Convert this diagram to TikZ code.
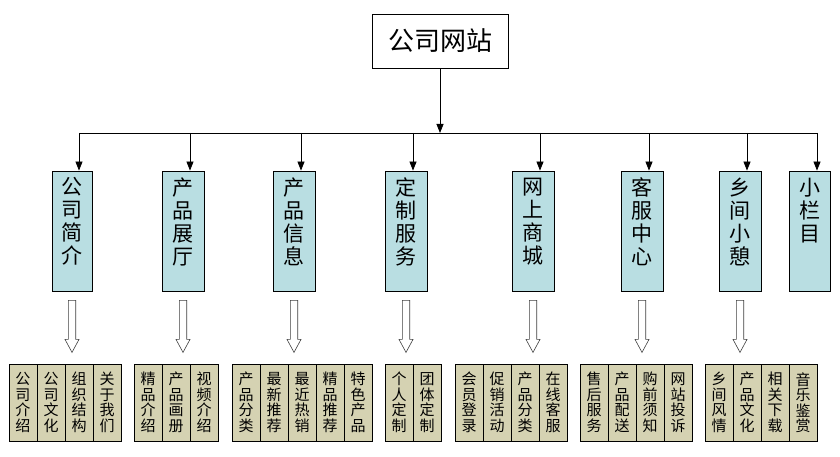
\documentclass[tikz,border=0pt]{standalone}
\usepackage{fontspec}
\setmainfont{Noto Sans CJK SC}
\usetikzlibrary{arrows.meta,calc}
\definecolor{midfill}{RGB}{185,222,226}
\definecolor{leaffill}{RGB}{213,210,178}
\newcommand\hollowarr[1]{\draw[hollow,shift={($(#1.south)+(0,9)$)}] (-3.7,0) -- (3.7,0) -- (3.7,39) -- (7,39) -- (0,52) -- (-7,39) -- (-3.7,39) -- cycle;}
\newcommand\leafgroup[3]{\foreach \t [count=\i] in {#3} {\node[leaf] (#1-\i) at ({#2+28*\i-14},402.5) {\t};}}
\begin{document}
\begin{tikzpicture}[x=1pt,y=-1pt,
  topbox/.style={draw,line width=0.8pt,minimum width=136pt,minimum height=54pt,inner sep=0pt,font=\fontsize{26}{28}\selectfont},
  midbox/.style={draw,line width=0.8pt,fill=midfill,minimum height=120pt,inner sep=0pt},
  midtext/.style={anchor=north,align=center,inner sep=0pt,font=\fontsize{21}{23}\selectfont},
  leaf/.style={draw,line width=0.8pt,fill=leaffill,minimum width=28pt,minimum height=77pt,inner sep=0pt,align=center,font=\fontsize{15}{15.5}\selectfont},
  arr/.style={line width=0.8pt,-{Triangle[width=7pt,length=9pt]}},
  hollow/.style={draw=black!75,line width=0.6pt,fill=white,line join=miter}]
\useasboundingbox (0,0) rectangle (840,457);
\fill[white] (0,0) rectangle (840,457);

\node[topbox] (top) at (440,41) {公司网站};

\node[midbox,minimum width=40pt] (m1) at (72,231) {};
\node[midbox,minimum width=42pt] (m2) at (183,231) {};
\node[midbox,minimum width=42pt] (m3) at (294,231) {};
\node[midbox,minimum width=42pt] (m4) at (406,231) {};
\node[midbox,minimum width=42pt] (m5) at (533,231) {};
\node[midbox,minimum width=42pt] (m6) at (642,231) {};
\node[midbox,minimum width=42pt] (m7) at (740,231) {};
\node[midbox,minimum width=41pt] (m8) at (809.5,231) {};

\node[midtext] (m1t) at ($(m1.north)+(0,7)$) {公\\司\\简\\介};
\node[midtext] (m2t) at ($(m2.north)+(0,7)$) {产\\品\\展\\厅};
\node[midtext] (m3t) at ($(m3.north)+(0,7)$) {产\\品\\信\\息};
\node[midtext] (m4t) at ($(m4.north)+(0,7)$) {定\\制\\服\\务};
\node[midtext] (m5t) at ($(m5.north)+(0,7)$) {网\\上\\商\\城};
\node[midtext] (m6t) at ($(m6.north)+(0,7)$) {客\\服\\中\\心};
\node[midtext] (m7t) at ($(m7.north)+(0,7)$) {乡\\间\\小\\憩};
\node[midtext] (m8t) at ($(m8.north)+(0,7)$) {小\\栏\\目};

\coordinate (barL) at (79,133);
\coordinate (barR) at (817,133);
\draw[arr] (top.south) -- (top.south |- barL);
\draw[line width=0.8pt] (barL) -- (barR);
\foreach \k/\d in {1/7,2/7,3/7,4/7,5/7,6/7,7/7,8/7.5} {
  \coordinate (t\k) at ($(m\k.north)+(\d,0)$);
  \draw[arr] (t\k |- barL) -- (t\k);
}

\foreach \k in {1,...,7} {\hollowarr{m\k}}

\leafgroup{g1}{9}{{公\\司\\介\\绍},{公\\司\\文\\化},{组\\织\\结\\构},{关\\于\\我\\们}}
\leafgroup{g2}{134}{{精\\品\\介\\绍},{产\\品\\画\\册},{视\\频\\介\\绍}}
\leafgroup{g3}{232}{{产\\品\\分\\类},{最\\新\\推\\荐},{最\\近\\热\\销},{精\\品\\推\\荐},{特\\色\\产\\品}}
\leafgroup{g4}{385}{{个\\人\\定\\制},{团\\体\\定\\制}}
\leafgroup{g5}{455}{{会\\员\\登\\录},{促\\销\\活\\动},{产\\品\\分\\类},{在\\线\\客\\服}}
\leafgroup{g6}{580}{{售\\后\\服\\务},{产\\品\\配\\送},{购\\前\\须\\知},{网\\站\\投\\诉}}
\leafgroup{g7}{705}{{乡\\间\\风\\情},{产\\品\\文\\化},{相\\关\\下\\载},{音\\乐\\鉴\\赏}}
\end{tikzpicture}
\end{document}
